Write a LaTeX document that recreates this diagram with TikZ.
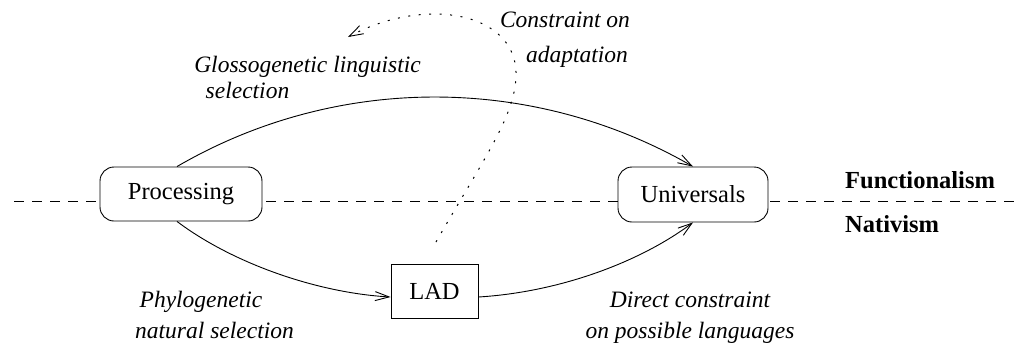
\documentclass[tikz,border=0pt]{standalone}
\usepackage{fontspec}
\setmainfont{Liberation Serif}
\usetikzlibrary{arrows.meta}
\begin{document}
\begin{tikzpicture}[x=1pt,y=-1pt,
  txt/.style={font=\fontsize{24.5}{28}\selectfont},
  box/.style={draw, line width=0.9pt, fill=white, inner sep=0pt, txt},
  lab/.style={anchor=base, inner sep=0pt, font=\fontsize{23.5}{28}\selectfont\itshape},
  side/.style={anchor=base west, inner sep=0pt, font=\fontsize{24.5}{28}\selectfont\bfseries},
  conn/.style={line width=0.9pt, -{Straight Barb[length=14pt,width=9pt,line width=0.9pt]}},
  dotconn/.style={line width=1pt, dash pattern=on 2pt off 8.5pt, -{Straight Barb[length=14pt,width=9pt,line width=0.9pt]}},
  divline/.style={line width=0.8pt, dash pattern=on 10pt off 8pt}]
\useasboundingbox (0,0) rectangle (1018,349);
% dividing line
\coordinate (dl) at (14,201);
\coordinate (dr) at (1018,201);
\draw[divline] (dl) -- (dr);
% boxes
\node[box, rounded corners=14pt, minimum width=162pt, minimum height=54pt] (proc) at (181,194) {Processing};
\node[box, rounded corners=14pt, minimum width=150pt, minimum height=55pt] (univ) at (693,194.5) {Universals};
\node[box, minimum width=87pt, minimum height=54pt] (lad) at (434.5,291) {LAD};
% connectors
\draw[conn] ([xshift=-4pt]proc.north) .. controls (336,74) and (532,74) .. (univ.north);
\draw[conn] ([xshift=-4pt]proc.south) .. controls (235,265) and (320,293) .. ([yshift=-6pt]lad.west);
\draw[conn] ([yshift=-6pt]lad.east) .. controls (560,292) and (640,262) .. (univ.south);
% dotted feedback
\coordinate (ds) at (436,242);
\coordinate (dm) at (516,72);
\coordinate (de) at (348,37);
\draw[dotconn] (ds) .. controls (484,158) and (517,114) .. (dm) .. controls (514,12) and (425,-4) .. (de);
% labels
\node[lab] (g1) at (307.5,72) {Glossogenetic linguistic};
\node[lab] (g2) at (247.5,98) {selection};
\node[lab] (c1) at (565,27) {Constraint on};
\node[lab] (c2) at (577,62) {adaptation};
\node[lab] (p1) at (201,307) {Phylogenetic};
\node[lab] (p2) at (214.5,338) {natural selection};
\node[lab] (d1) at (690,307) {Direct constraint};
\node[lab] (d2) at (690,338) {on possible languages};
\node[side] (fn) at (845,188) {Functionalism};
\node[side] (nt) at (845,232) {Nativism};
\end{tikzpicture}
\end{document}
